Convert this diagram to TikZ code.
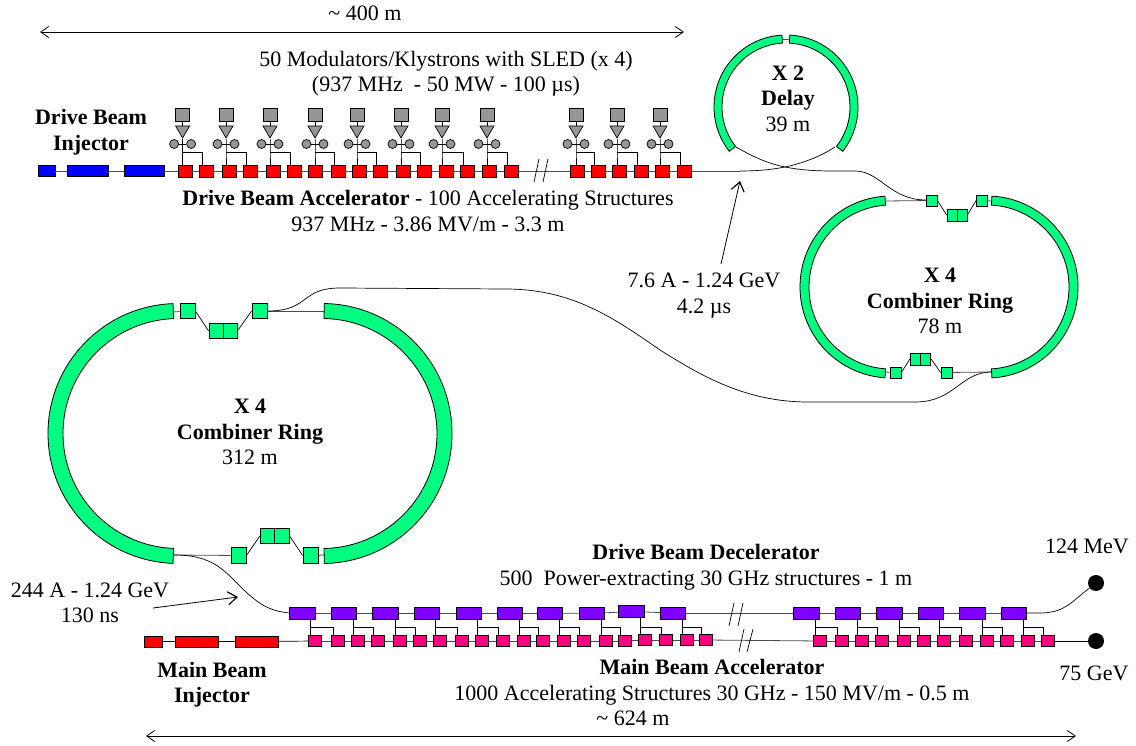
\documentclass[tikz,border=0pt]{standalone}
\usepackage{fontspec}
\setmainfont{Liberation Serif}
\usepackage{xcolor}
\usetikzlibrary{arrows.meta, shapes.geometric}

\definecolor{bendgreen}{RGB}{0,255,128}
\definecolor{decelpurple}{RGB}{128,0,255}
\definecolor{mainpink}{RGB}{255,0,128}
\definecolor{klygray}{RGB}{150,150,150}

\tikzset{
  box/.style={draw, rectangle, inner sep=0pt, line width=0.8pt},
  injd/.style={box, fill=blue, minimum height=11pt},
  injm/.style={box, fill=red, minimum height=11pt},
  acc/.style={box, fill=red, minimum width=14pt, minimum height=12pt},
  mod/.style={box, fill=klygray, minimum width=14pt, minimum height=13pt},
  tri/.style={draw, isosceles triangle, isosceles triangle stretches, shape border rotate=-90,
    fill=klygray, inner sep=0pt, minimum width=14pt, minimum height=12pt, line width=0.7pt},
  sled/.style={draw, circle, fill=klygray, inner sep=0pt, minimum size=9pt, line width=0.7pt},
  dec/.style={box, fill=decelpurple, minimum width=25.5pt, minimum height=12pt},
  str/.style={box, fill=mainpink, minimum width=13.5pt, minimum height=11.5pt},
  sbox/.style={box, fill=bendgreen, minimum width=11pt, minimum height=11pt},
  lbox/.style={box, fill=bendgreen, minimum width=15pt, minimum height=15.5pt},
  dump/.style={circle, fill=black, inner sep=0pt, minimum size=16pt},
  beam/.style={line width=0.8pt, black!70},
  wire/.style={line width=0.7pt, black},
  lab/.style={inner sep=0pt, align=center, font=\fontsize{22}{25.5}\selectfont},
  dim/.style={line width=0.8pt, {Straight Barb[length=8pt,width=11pt]}-{Straight Barb[length=8pt,width=11pt]}},
  point/.style={line width=0.8pt, -{Straight Barb[length=9pt,width=13pt,line width=1.2pt]}}
}

% center x, center y, outer radius, thickness, start and end angle
\newcommand{\bendarc}[6]{
  \draw[fill=bendgreen, line width=0.8pt] (#1,#2) ++(#5:#3pt) arc (#5:#6:#3pt)
    -- ++(#6:-#4pt) arc (#6:#5:{(#3-#4)*1pt}) -- cycle;
}

\begin{document}
\begin{tikzpicture}[x=1pt, y=-1pt]
  \useasboundingbox (0,0) rectangle (1136,746);

  % drive beam injector and accelerator
  \node[injd, minimum width=17pt] (dinjA) at (46.5,171) {};
  \node[injd, minimum width=41pt] (dinjB) at (87.5,171) {};
  \node[injd, minimum width=40pt] (dinjC) at (144,171) {};
  \foreach \i/\k/\a/\b in {1/182.6/185/206, 2/226/229/250, 3/270/273/294, 4/315/315/338,
      5/357/359/380, 6/401/403/424, 7/442/446/467, 8/487/489/511,
      9/576/577/598, 10/617/619/641, 11/660/662/684} {
    \node[acc] (acA\i) at (\a,171) {};
    \node[acc] (acB\i) at (\b,171) {};
    \node[mod] (mod\i) at (\k,114.5) {};
    \node[tri] (tri\i) at (\k,130) {};
    \node[sled] (slA\i) at (\k-8.5,144) {};
    \node[sled] (slB\i) at (\k+8.5,144) {};
    \coordinate (brn\i) at (\k,152);
    \draw[wire] (mod\i) -- (tri\i);
    \draw[wire] (tri\i.apex) -- (brn\i) -- (brn\i |- acA\i.north);
    \draw[wire] (slA\i) -- (slB\i);
    \draw[wire] (brn\i) -| ([xshift=-4pt]acB\i.north);
    \draw[beam] (acA\i) -- (acB\i);
  }
  \foreach \i [evaluate=\i as \n using int(\i+1)] in {1,...,10}
    \draw[beam] (acB\i) -- (acA\n);
  \draw[beam] (dinjA) -- (dinjB);
  \draw[beam] (dinjB) -- (dinjC);
  \draw[beam] (dinjC) -- (acA1);
  \draw[wire] (539,159) -- (534,182);
  \draw[wire] (548,159) -- (543,182);

  % delay loop
  \bendarc{786}{107}{72}{8}{93.2}{218}
  \bendarc{786}{107}{72}{8}{87}{-38}
  \coordinate (dlyA) at (782,39);
  \coordinate (dlyB) at (790,39);
  \coordinate (dlyC) at (736,147);
  \coordinate (dlyD) at (835,147);
  \coordinate (dlyE) at (740,171);
  \draw[beam] (dlyA) -- (dlyB);
  \draw[beam] (acB11) -- (dlyE);

  % first combiner ring
  \bendarc{891}{287}{91}{9}{93.8}{266.2}
  \bendarc{987}{287}{91}{9}{86.9}{-86.9}
  \node[sbox] (smA) at (931.5,200.5) {};
  \node[sbox, minimum width=10pt, minimum height=12pt] (smC) at (952,215) {};
  \node[sbox, minimum width=10pt, minimum height=12pt] (smD) at (962,215) {};
  \node[sbox] (smE) at (982,200.5) {};
  \node[sbox] (smF) at (895.5,372.5) {};
  \node[sbox, minimum width=10.5pt, minimum height=12pt] (smG) at (915.5,359) {};
  \node[sbox, minimum width=10.5pt, minimum height=12pt] (smH) at (925.5,359) {};
  \node[sbox] (smI) at (946.5,372.5) {};
  \coordinate (rgA) at (885,201);
  \coordinate (rgB) at (992,201);
  \coordinate (rgC) at (885,372);
  \coordinate (rgD) at (992,372);
  \draw[beam] (rgA) -- (smA);
  \draw[wire] (smA.east) -- (smC.west);
  \draw[wire] (smD.east) -- (smE.west);
  \draw[beam] (smE) -- (rgB);
  \draw[beam] (rgC) -- (smF);
  \draw[wire] (smF.east) -- (smG.west);
  \draw[wire] (smH.east) -- (smI.west);
  \draw[beam] (smI) -- (rgD);

  % curves joining delay, rings and decelerator
  \draw[wire] (dlyC) .. controls (755,158) and (770,164) .. (785,167)
    .. controls (800,170) and (815,171) .. (833,171) -- (855,171)
    .. controls (880,171) and (890,200) .. (926,200);
  \draw[wire] (dlyD) .. controls (820,157) and (800,164) .. (785,167)
    .. controls (770,170) and (755,171) .. (dlyE);

  % second combiner ring
  \bendarc{178}{433.5}{130}{15}{92.2}{267.8}
  \bendarc{322}{433.5}{130}{15}{89}{-89}
  \node[lbox] (lgA) at (187.5,311) {};
  \node[lbox, minimum width=14pt] (lgB) at (216,331) {};
  \node[lbox, minimum width=14pt] (lgC) at (230,331) {};
  \node[lbox] (lgD) at (259.5,311) {};
  \node[lbox] (lgE) at (238.5,555.5) {};
  \node[lbox, minimum width=14.5pt] (lgF) at (267.5,536) {};
  \node[lbox, minimum width=14.5pt] (lgG) at (282,536) {};
  \node[lbox] (lgH) at (310.5,555.5) {};
  \coordinate (rhA) at (173,312);
  \coordinate (rhB) at (324,311);
  \coordinate (rhC) at (174,555);
  \coordinate (rhD) at (324,555);
  \draw[beam] (rhA) -- (lgA);
  \draw[wire] (lgA.east) -- (lgB.west);
  \draw[wire] (lgC.east) -- (lgD.west);
  \draw[beam] (lgD) -- (rhB);
  \draw[beam] (rhC) -- (lgE);
  \draw[wire] (lgE.east) -- (lgF.west);
  \draw[wire] (lgG.east) -- (lgH.west);
  \draw[beam] (lgH) -- (rhD);
  \draw[wire] (rgD) .. controls (960,372) and (955,402) .. (915,402) -- (808,402)
    .. controls (745,402) and (700,375) .. (660,350)
    .. controls (610,315) and (570,289) .. (505,289) -- (340,288)
    .. controls (300,288) and (310,311) .. (lgD.east);

  % main beam injector, decelerator and accelerator
  \node[injm, minimum width=18pt] (minjA) at (153,641.5) {};
  \node[injm, minimum width=43pt] (minjB) at (196.5,641.5) {};
  \node[injm, minimum width=43pt] (minjC) at (256.5,641.5) {};
  \foreach \i/\p/\y/\a/\b/\z in {1/302.5/613/315/338/641, 2/344/613/358/378/641, 3/385.5/613/400/420/641,
      4/427/613/440/462/641, 5/469/613/482/503/641, 6/510/613/524/543/641, 7/550/613/564/584/641,
      8/592/613.5/606/625/641, 9/631.5/611.5/645/666/640, 10/673/613/687/706/640,
      11/806.5/613/820/842/641, 12/848/613/862/882/641, 13/889.5/613/904/924/641,
      14/931/613/944/966/641, 15/972.5/613/987/1007/641, 16/1014/613/1028/1048/641} {
    \node[dec] (dec\i) at (\p,\y) {};
    \node[str] (stA\i) at (\a,\z) {};
    \node[str] (stB\i) at (\b,\z) {};
    \coordinate (brd\i) at ([xshift=-5pt]stA\i.north);
    \draw[wire] (dec\i.south -| brd\i) -- (brd\i);
    \draw[wire] (brd\i |- 0,627) -| ([xshift=-5pt]stB\i.north);
    \draw[beam] (stA\i) -- (stB\i);
  }
  \foreach \i [evaluate=\i as \n using int(\i+1)] in {1,...,15} {
    \draw[beam] (dec\i) -- (dec\n);
    \draw[beam] (stB\i) -- (stA\n);
  }
  \draw[wire] (minjA) -- (minjB);
  \draw[wire] (minjB) -- (minjC);
  \draw[wire] (minjC) -- (stA1);
  \draw[wire] (734,603) -- (729,626);
  \draw[wire] (743,603) -- (738,626);
  \draw[wire] (744,629) -- (739,652);
  \draw[wire] (753,629) -- (747,652);
  \node[dump] (endA) at (1096,583) {};
  \node[dump] (endB) at (1096,641) {};
  \draw[wire] (stB16) -- (endB);
  \draw[wire] (dec16) -- (1042,613) .. controls (1065,612) and (1070,603) .. (endA);
  \draw[wire] (rhC) .. controls (215,555) and (225,572) .. (245,591)
    .. controls (262,607) and (272,611) .. (dec1.west);

  % dimensions and pointers
  \coordinate (topL) at (40,32);
  \coordinate (topR) at (684,32);
  \coordinate (botL) at (146,736);
  \coordinate (botR) at (1076,736);
  \coordinate (ptA) at (721,264);
  \coordinate (ptB) at (740,181);
  \coordinate (ptC) at (153,608);
  \coordinate (ptD) at (238,597);
  \draw[dim] (topL) -- (topR);
  \draw[dim] (botL) -- (botR);
  \draw[point] (ptA) -- (ptB);
  \draw[point] (ptC) -- (ptD);

  % labels
  \node[lab] (lenTop) at (365,13) {\textasciitilde\ 400 m};
  \node[lab] (modText) at (446,73.5) {50 Modulators/Klystrons with SLED (x 4)\\(937 MHz\ \ - 50 MW - 100 µs)};
  \node[lab] (dinjText) at (91,132) {\textbf{Drive Beam}\\\textbf{Injector}};
  \node[lab] (accText) at (428,211) {\textbf{Drive Beam Accelerator} - 100 Accelerating Structures\\937 MHz - 3.86 MV/m - 3.3 m};
  \node[lab] (dlyText) at (788,98.5) {\textbf{X 2}\\\textbf{Delay}\\39 m};
  \node[lab] (curA) at (704,295.5) {7.6 A - 1.24 GeV\\4.2 µs};
  \node[lab] (rgText) at (940,301) {\textbf{X 4}\\\textbf{Combiner Ring}\\78 m};
  \node[lab] (rhText) at (250,432) {\textbf{X 4}\\\textbf{Combiner Ring}\\312 m};
  \node[lab] (curB) at (90,603) {244 A - 1.24 GeV\\130 ns};
  \node[lab] (decText) at (706,567) {\textbf{Drive Beam Decelerator}\\500\ \ Power-extracting 30 GHz structures - 1 m};
  \node[lab] (endAText) at (1087,546) {124 MeV};
  \node[lab] (endBText) at (1094,673) {75 GeV};
  \node[lab] (minjText) at (212,684.5) {\textbf{Main Beam}\\\textbf{Injector}};
  \node[lab] (mainText) at (712,682) {\textbf{Main Beam Accelerator}\\1000 Accelerating Structures 30 GHz - 150 MV/m - 0.5 m};
  \node[lab] (lenBot) at (633,718) {\textasciitilde\ 624 m};
\end{tikzpicture}
\end{document}
